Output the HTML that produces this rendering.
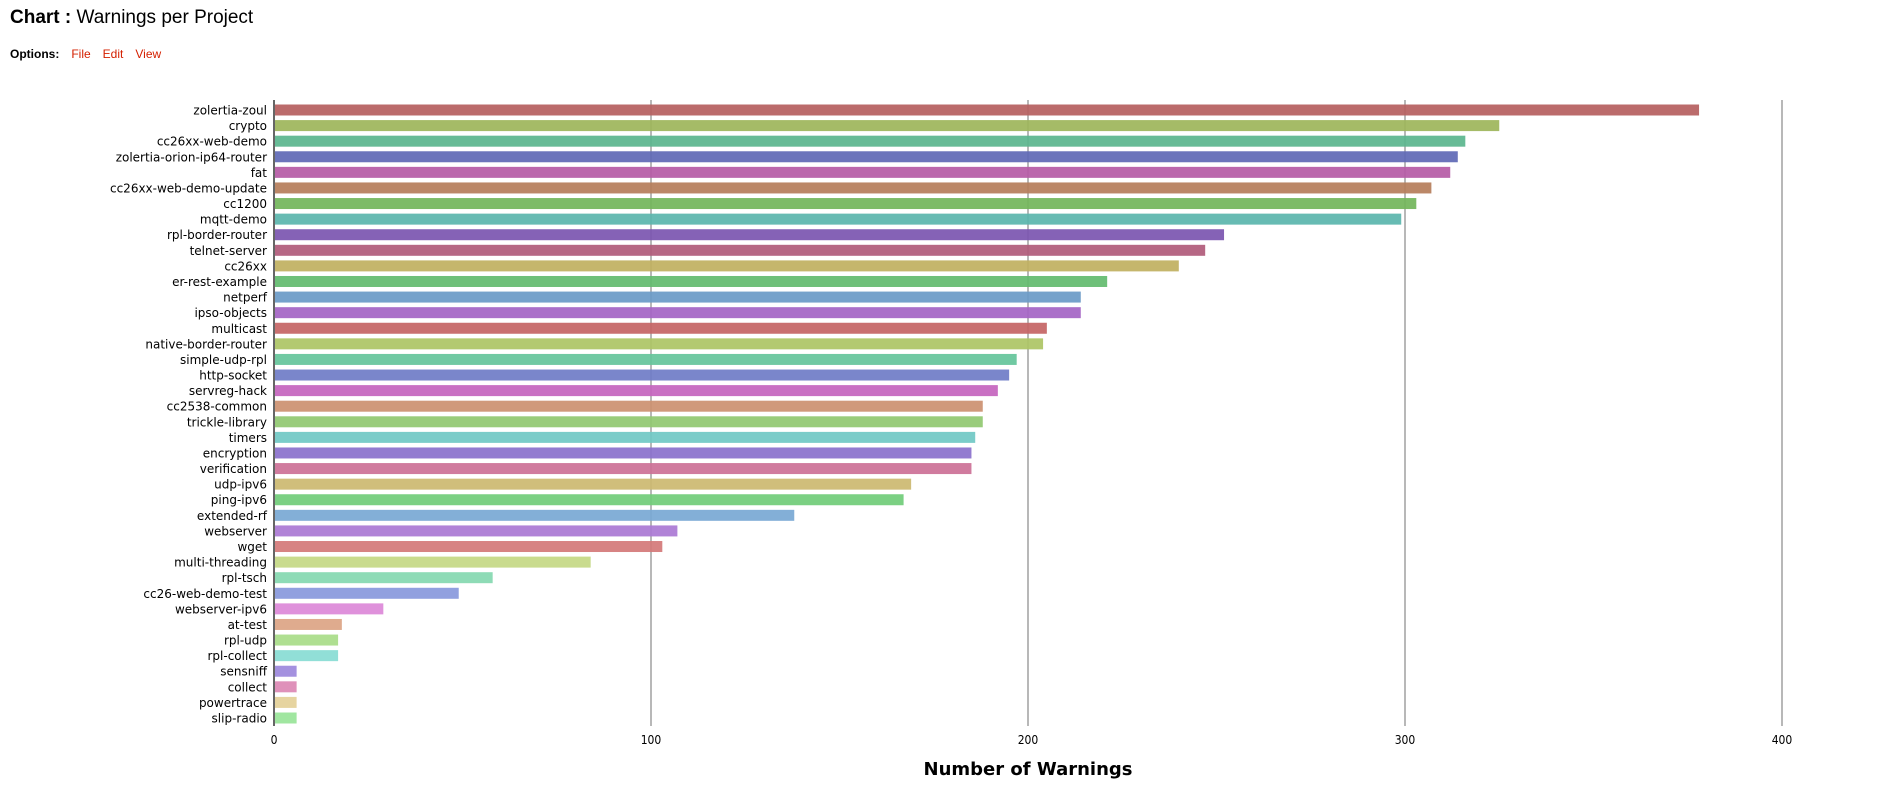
<!DOCTYPE html>
<html><head><meta charset="utf-8">
<style>
body{margin:0;background:#fff;font-family:"Liberation Sans",sans-serif;}
#wrap{position:relative;width:1883px;height:796px;overflow:hidden;}
.title{position:absolute;left:10px;top:7px;font-size:19px;color:#000;}
.opts{position:absolute;left:10px;top:47px;font-size:12px;}
.opts b{margin-right:12px}
.opts span{color:#d42000;margin-right:12px}
</style></head>
<body>
<div id="wrap">
<div class="title"><b>Chart :</b> Warnings per Project</div>
<div class="opts"><b>Options:</b><span>File</span><span>Edit</span><span>View</span></div>
<svg id="chart" width="1883" height="796" style="position:absolute;left:0;top:0"></svg>
</div>
<script>
const categories=["zolertia-zoul","crypto","cc26xx-web-demo","zolertia-orion-ip64-router","fat","cc26xx-web-demo-update","cc1200","mqtt-demo","rpl-border-router","telnet-server","cc26xx","er-rest-example","netperf","ipso-objects","multicast","native-border-router","simple-udp-rpl","http-socket","servreg-hack","cc2538-common","trickle-library","timers","encryption","verification","udp-ipv6","ping-ipv6","extended-rf","webserver","wget","multi-threading","rpl-tsch","cc26-web-demo-test","webserver-ipv6","at-test","rpl-udp","rpl-collect","sensniff","collect","powertrace","slip-radio"];
const values=[378,325,316,314,312,307,303,299,252,247,240,221,214,214,205,204,197,195,192,188,188,186,185,185,169,167,138,107,103,84,58,49,29,18,17,17,6,6,6,6];
const ticks=[0,100,200,300,400];
const colors=["#b55e5e","#9db55a","#5ab58d","#5e68b5","#b55aa5","#b57d5a","#72b55a","#5ab5ad","#7b55b0","#b05a7a","#c0b060","#62bb6e","#6a9ac7","#a464c4","#c46464","#adc464","#64c49a","#6f7cc7","#c464be","#cc9070","#90c870","#70c8c4","#8a70cc","#cc7096","#ccb870","#70cc78","#78a8d4","#aa78d4","#d47878","#c4d884","#84d8b0","#8898dc","#dc88d8","#dca484","#a8dc88","#88dcd4","#9c88dc","#dc88b4","#e4d098","#98e498"];
const NS="http://www.w3.org/2000/svg";
const svg=document.getElementById('chart');
const x0=274,pxPer=3.77,top0=110,pitch=(718-110)/(categories.length-1),bh=11;
const xs=v=>x0+v*pxPer;
const ys=i=>top0+i*pitch;
function mk(t,a){const e=document.createElementNS(NS,t);for(const k in a)e.setAttribute(k,a[k]);svg.appendChild(e);return e;}
ticks.forEach(t=>{
  if(t>0){const g=mk('line',{x1:xs(t),x2:xs(t),y1:100,y2:726,stroke:'#b8b8b8','stroke-width':2});
  
  }
  const l=mk('text',{x:xs(t),y:744,'text-anchor':'middle','font-size':12,'font-family':'DejaVu Sans Condensed, DejaVu Sans, sans-serif'});
  l.textContent=t;
  
  
});
categories.forEach((c,i)=>{
  const r=mk('rect',{x:x0,y:ys(i)-bh/2,width:xs(values[i])-x0,height:bh,fill:colors[i%colors.length],'fill-opacity':0.92});
  
  
  const t=mk('text',{x:x0-7,y:ys(i)+4.5,'text-anchor':'end','font-size':12,'font-family':'DejaVu Sans, sans-serif'});
  t.textContent=c;
  
  
});
const ax=mk('line',{x1:x0,x2:x0,y1:100,y2:726,stroke:'#666','stroke-width':2});


const at=mk('text',{x:1028,y:775,'text-anchor':'middle','font-size':18,'font-weight':'bold','font-family':'DejaVu Sans, sans-serif'});
at.textContent='Number of Warnings';


</script>
</body></html>
